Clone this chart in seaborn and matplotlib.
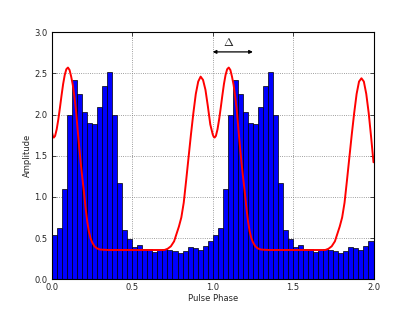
import numpy as np
import matplotlib
matplotlib.use("Agg")
import matplotlib.pyplot as plt
import seaborn as sns

# Folded pulse histogram: one cycle of 32 bins, shown twice (phase 0-2)
bin_amp = [0.54, 0.62, 1.10, 2.00, 2.42, 2.25, 2.03, 1.90, 1.88, 2.09, 2.35, 2.52,
           2.00, 1.17, 0.60, 0.49, 0.39, 0.41, 0.37, 0.37, 0.33, 0.36, 0.37, 0.36,
           0.34, 0.32, 0.34, 0.39, 0.38, 0.35, 0.40, 0.46]
n_bins = len(bin_amp)
hist_amp = bin_amp + bin_amp
hist_phase = (np.arange(2 * n_bins) + 0.5) / n_bins

# Template profile (red curve)
phase_a = [0.000, 0.006, 0.012, 0.020, 0.030, 0.040, 0.050, 0.060, 0.070, 0.080,
           0.090, 0.100, 0.110, 0.120, 0.130, 0.140, 0.150, 0.160, 0.170, 0.180,
           0.190, 0.200, 0.210, 0.220, 0.230, 0.240, 0.250, 0.265, 0.280, 0.300,
           0.350, 0.700, 0.720, 0.740, 0.760, 0.775, 0.790, 0.805, 0.820, 0.835,
           0.850, 0.865, 0.880, 0.895, 0.910, 0.925, 0.940, 0.955, 0.970, 0.985]
amp_a = [1.79, 1.74, 1.72, 1.74, 1.82, 1.94, 2.08, 2.23, 2.37, 2.48,
         2.55, 2.57, 2.54, 2.46, 2.36, 2.22, 2.05, 1.82, 1.60, 1.40,
         1.22, 1.05, 0.86, 0.70, 0.58, 0.50, 0.45, 0.40, 0.375, 0.36,
         0.355, 0.355, 0.37, 0.40, 0.46, 0.55, 0.64, 0.75, 0.93, 1.20,
         1.48, 1.76, 2.02, 2.25, 2.40, 2.46, 2.42, 2.30, 2.10, 1.88]
phase_b = [1.000, 1.006, 1.012, 1.020, 1.030, 1.040, 1.050, 1.060, 1.070, 1.080,
           1.090, 1.100, 1.110, 1.120, 1.130, 1.140, 1.150, 1.160, 1.170, 1.180,
           1.190, 1.200, 1.210, 1.220, 1.230, 1.240, 1.250, 1.265, 1.280, 1.300,
           1.350, 1.700, 1.720, 1.740, 1.760, 1.775, 1.790, 1.805, 1.820, 1.835,
           1.850, 1.865, 1.880, 1.895, 1.910, 1.925, 1.940, 1.955, 1.970, 1.985,
           2.000]
amp_b = [1.76, 1.73, 1.72, 1.74, 1.82, 1.94, 2.08, 2.23, 2.37, 2.48,
         2.55, 2.57, 2.54, 2.46, 2.36, 2.22, 2.05, 1.82, 1.60, 1.40,
         1.22, 1.05, 0.86, 0.70, 0.58, 0.50, 0.45, 0.40, 0.375, 0.36,
         0.355, 0.355, 0.37, 0.40, 0.46, 0.55, 0.64, 0.75, 0.93, 1.20,
         1.48, 1.76, 2.02, 2.25, 2.40, 2.44, 2.40, 2.25, 2.02, 1.73,
         1.42]
curve_phase = phase_a + phase_b
curve_amp = amp_a + amp_b

x_ticks = [0.0, 0.5, 1.0, 1.5, 2.0]
y_ticks = [0.0, 0.5, 1.0, 1.5, 2.0, 2.5, 3.0]
delta_start, delta_end, delta_y = 1.0, 1.25, 2.76

sns.set_style("ticks")
plt.rcParams['font.family'] = ['DejaVu Sans']
plt.rcParams['mathtext.fontset'] = 'cm'

fig, ax = plt.subplots(figsize=(4.15, 3.12), dpi=100)
fig.subplots_adjust(left=0.125, right=0.9, bottom=0.105, top=0.897)

sns.histplot(x=hist_phase, weights=hist_amp, bins=2 * n_bins, binrange=(0, 2),
             color='#0000ff', edgecolor='black', linewidth=0.5, alpha=1.0, ax=ax)
sns.lineplot(x=curve_phase, y=curve_amp, color='red', linewidth=1.4, ax=ax)

ax.annotate('', xy=(delta_end, delta_y), xytext=(delta_start, delta_y),
            arrowprops=dict(arrowstyle='<|-|>', color='black', lw=0.9,
                            mutation_scale=5, shrinkA=0, shrinkB=0))
ax.text(1.10, 2.87, r'$\Delta$', ha='center', va='center', fontsize=8.5)

ax.set_xlim(0, 2)
ax.set_ylim(0, 3)
ax.set_xticks(x_ticks)
ax.set_yticks(y_ticks)
ax.set_xticklabels([f"{t:.1f}" for t in x_ticks])
ax.set_yticklabels([f"{t:.1f}" for t in y_ticks])
ax.tick_params(direction='in', top=True, right=True, labelsize=6, length=3,
               width=0.6, pad=3)
ax.set_xlabel("Pulse Phase", fontsize=6, labelpad=1)
ax.set_ylabel("Amplitude", fontsize=6, labelpad=2)
ax.grid(True, linestyle=':', color='gray', linewidth=0.6)
ax.set_axisbelow(True)
for s in ax.spines.values():
    s.set_visible(True)
    s.set_color('black')
    s.set_linewidth(0.8)

fig.savefig("out.png", dpi=100)
